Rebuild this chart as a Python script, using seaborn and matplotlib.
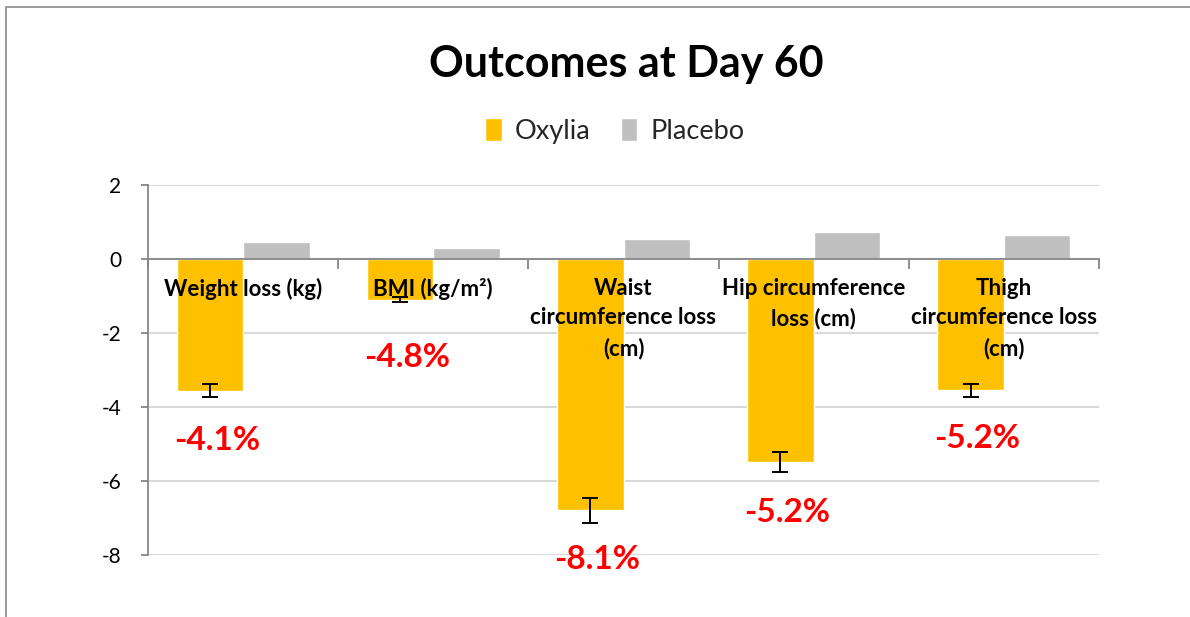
import matplotlib
matplotlib.use('Agg')
import matplotlib.pyplot as plt
import seaborn as sns
import pandas as pd

# data
categories = ['Weight loss (kg)', 'BMI (kg/m\u00b2)', 'Waist\ncircumference loss\n(cm)',
              'Hip circumference\nloss (cm)', 'Thigh\ncircumference loss\n(cm)']
oxylia = [-3.56, -1.10, -6.79, -5.48, -3.55]
oxylia_err = [0.18, 0.06, 0.34, 0.27, 0.18]
placebo = [0.45, 0.29, 0.55, 0.72, 0.64]
pct_labels = ['-4.1%', '-4.8%', '-8.1%', '-5.2%', '-5.2%']
y_ticks = [2, 0, -2, -4, -6, -8]

df = pd.DataFrame({
    'Outcome': categories * 2,
    'Group': ['Oxylia'] * len(categories) + ['Placebo'] * len(categories),
    'Change': oxylia + placebo,
})

sns.set_theme(style='white')
plt.rcParams['font.family'] = ['Lato', 'DejaVu Sans']

fig = plt.figure(figsize=(11.9, 6.17), dpi=100)
ax = fig.add_axes([148 / 1190, 1 - 555 / 617, (1099 - 148) / 1190, (555 - 185) / 617])

sns.barplot(data=df, x='Outcome', y='Change', hue='Group',
            palette={'Oxylia': '#FFC000', 'Placebo': '#BFBFBF'},
            errorbar=None, width=0.7, saturation=1, ax=ax)

# error bars on the Oxylia bars
ox_bars = ax.containers[0]
xs = [p.get_x() + p.get_width() / 2 for p in ox_bars]
ax.errorbar(xs, oxylia, yerr=oxylia_err, fmt='none', ecolor='black',
            elinewidth=1.4, capsize=6, capthick=1.4, zorder=5)

# red percentage labels under each bar
pct_offsets = [43, 56, 37, 41, 41]
for x, v, e, lab, off in zip(xs, oxylia, oxylia_err, pct_labels, pct_offsets):
    ax.annotate(lab, xy=(x, v - e), xytext=(7, -off), textcoords='offset pixels',
                ha='center', va='center', color='#FF0000', fontsize=24,
                fontweight='bold')

# category labels sit just below the zero axis
for i, lab in enumerate(categories):
    ax.annotate(lab, xy=(i, 0), xytext=(0, -19), textcoords='offset pixels',
                ha='center', va='top', fontsize=16, fontweight='bold',
                color='black', linespacing=1.5, zorder=6)

ax.set_xlim(-0.5, len(categories) - 0.5)
ax.set_ylim(-8, 2)
ax.set_yticks(y_ticks)
ax.set_yticklabels([str(t) for t in y_ticks])
ax.set_xticks([i - 0.5 for i in range(len(categories) + 1)])
ax.set_xticklabels([])
ax.set_xlabel('')
ax.set_ylabel('')

ax.yaxis.grid(True, color='#D9D9D9', linewidth=1.5)
ax.set_axisbelow(True)
for s in ['top', 'right']:
    ax.spines[s].set_visible(False)
ax.spines['bottom'].set_position(('data', 0))
ax.spines['bottom'].set_color('#868686')
ax.spines['bottom'].set_linewidth(1.3)
ax.spines['left'].set_color('#868686')
ax.spines['left'].set_linewidth(1.3)
ax.spines['bottom'].set_zorder(4)
ax.tick_params(axis='x', direction='out', length=7, color='#868686', width=1.3,
               bottom=True)
ax.tick_params(axis='y', direction='out', length=5, color='#868686', width=1.3,
               left=True, labelsize=15, pad=14, labelcolor='black')

sns.move_legend(ax, 'center', bbox_to_anchor=(615 / 1190, 1 - 131 / 617),
                bbox_transform=fig.transFigure, ncol=2, frameon=False, title=None,
                fontsize=19.5, handlelength=0.6, handleheight=0.9,
                handletextpad=0.5, columnspacing=1.1)

fig.text(626 / 1190, 1 - 77 / 617, 'Outcomes at Day 60', ha='center', va='baseline',
         fontsize=31, fontweight='bold', color='black')

# chart-area border
fig.add_artist(plt.Rectangle((6 / 1190, -0.1), 1.2, 1.1 - 7 / 617,
                             transform=fig.transFigure, fill=False,
                             edgecolor='#898989', linewidth=1.2))

fig.savefig('out.png', dpi=100)
